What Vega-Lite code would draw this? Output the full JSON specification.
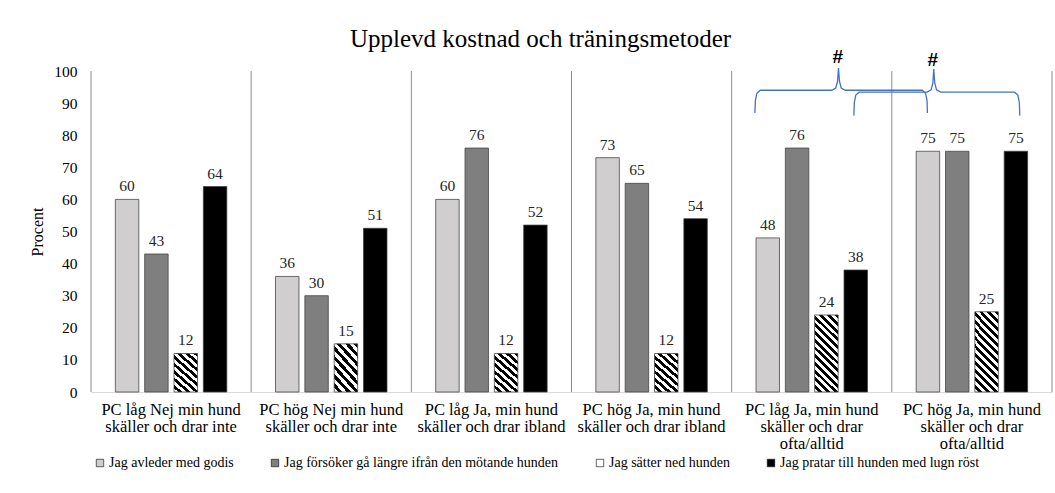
{
  "$schema": "https://vega.github.io/schema/vega-lite/v6.json",
  "width": 961,
  "height": 321,
  "autosize": {"type": "none"},
  "padding": {"left": 91, "top": 71, "right": 3, "bottom": 101},
  "background": "white",
  "config": {"view": {"stroke": null}, "font": "Liberation Serif"},
  "title": {"text": "Upplevd kostnad och träningsmetoder", "fontSize": 25, "fontWeight": "normal", "font": "Liberation Serif", "color": "#000000", "anchor": "middle", "dx": -31, "offset": -4},
  "datasets": {
    "bars": [
      {"group": "PC låg Nej min hund\nskäller och drar inte", "series": "Jag avleder med godis", "value": 60},
      {"group": "PC låg Nej min hund\nskäller och drar inte", "series": "Jag försöker gå längre ifrån den mötande hunden", "value": 43},
      {"group": "PC låg Nej min hund\nskäller och drar inte", "series": "Jag sätter ned hunden", "value": 12},
      {"group": "PC låg Nej min hund\nskäller och drar inte", "series": "Jag pratar till hunden med lugn röst", "value": 64},
      {"group": "PC hög Nej min hund\nskäller och drar inte", "series": "Jag avleder med godis", "value": 36},
      {"group": "PC hög Nej min hund\nskäller och drar inte", "series": "Jag försöker gå längre ifrån den mötande hunden", "value": 30},
      {"group": "PC hög Nej min hund\nskäller och drar inte", "series": "Jag sätter ned hunden", "value": 15},
      {"group": "PC hög Nej min hund\nskäller och drar inte", "series": "Jag pratar till hunden med lugn röst", "value": 51},
      {"group": "PC låg Ja, min hund\nskäller och drar ibland", "series": "Jag avleder med godis", "value": 60},
      {"group": "PC låg Ja, min hund\nskäller och drar ibland", "series": "Jag försöker gå längre ifrån den mötande hunden", "value": 76},
      {"group": "PC låg Ja, min hund\nskäller och drar ibland", "series": "Jag sätter ned hunden", "value": 12},
      {"group": "PC låg Ja, min hund\nskäller och drar ibland", "series": "Jag pratar till hunden med lugn röst", "value": 52},
      {"group": "PC hög Ja, min hund\nskäller och drar ibland", "series": "Jag avleder med godis", "value": 73},
      {"group": "PC hög Ja, min hund\nskäller och drar ibland", "series": "Jag försöker gå längre ifrån den mötande hunden", "value": 65},
      {"group": "PC hög Ja, min hund\nskäller och drar ibland", "series": "Jag sätter ned hunden", "value": 12},
      {"group": "PC hög Ja, min hund\nskäller och drar ibland", "series": "Jag pratar till hunden med lugn röst", "value": 54},
      {"group": "PC låg Ja, min hund\nskäller och drar\nofta/alltid", "series": "Jag avleder med godis", "value": 48},
      {"group": "PC låg Ja, min hund\nskäller och drar\nofta/alltid", "series": "Jag försöker gå längre ifrån den mötande hunden", "value": 76},
      {"group": "PC låg Ja, min hund\nskäller och drar\nofta/alltid", "series": "Jag sätter ned hunden", "value": 24},
      {"group": "PC låg Ja, min hund\nskäller och drar\nofta/alltid", "series": "Jag pratar till hunden med lugn röst", "value": 38},
      {"group": "PC hög Ja, min hund\nskäller och drar\nofta/alltid", "series": "Jag avleder med godis", "value": 75},
      {"group": "PC hög Ja, min hund\nskäller och drar\nofta/alltid", "series": "Jag försöker gå längre ifrån den mötande hunden", "value": 75},
      {"group": "PC hög Ja, min hund\nskäller och drar\nofta/alltid", "series": "Jag sätter ned hunden", "value": 25},
      {"group": "PC hög Ja, min hund\nskäller och drar\nofta/alltid", "series": "Jag pratar till hunden med lugn röst", "value": 75}
    ],
    "dividers": [{"x": 0}, {"x": 1}, {"x": 2}, {"x": 3}, {"x": 4}, {"x": 5}, {"x": 6}],
    "braces": [
      {"b": 1, "i": 0, "x": 4.145, "y": 86.9},
      {"b": 1, "i": 1, "x": 4.148, "y": 90.8},
      {"b": 1, "i": 2, "x": 4.157, "y": 93.0},
      {"b": 1, "i": 3, "x": 4.178, "y": 94.0},
      {"b": 1, "i": 4, "x": 4.625, "y": 94.0},
      {"b": 1, "i": 5, "x": 4.650, "y": 94.7},
      {"b": 1, "i": 6, "x": 4.661, "y": 96.8},
      {"b": 1, "i": 7, "x": 4.667, "y": 100.9},
      {"b": 1, "i": 8, "x": 4.673, "y": 96.8},
      {"b": 1, "i": 9, "x": 4.684, "y": 94.7},
      {"b": 1, "i": 10, "x": 4.709, "y": 94.0},
      {"b": 1, "i": 11, "x": 5.190, "y": 94.0},
      {"b": 1, "i": 12, "x": 5.211, "y": 93.0},
      {"b": 1, "i": 13, "x": 5.220, "y": 90.8},
      {"b": 1, "i": 14, "x": 5.222, "y": 86.9},
      {"b": 2, "i": 0, "x": 4.763, "y": 86.1},
      {"b": 2, "i": 1, "x": 4.766, "y": 90.2},
      {"b": 2, "i": 2, "x": 4.775, "y": 92.5},
      {"b": 2, "i": 3, "x": 4.796, "y": 93.4},
      {"b": 2, "i": 4, "x": 5.220, "y": 93.4},
      {"b": 2, "i": 5, "x": 5.245, "y": 94.1},
      {"b": 2, "i": 6, "x": 5.256, "y": 96.2},
      {"b": 2, "i": 7, "x": 5.262, "y": 100.6},
      {"b": 2, "i": 8, "x": 5.268, "y": 96.2},
      {"b": 2, "i": 9, "x": 5.279, "y": 94.1},
      {"b": 2, "i": 10, "x": 5.304, "y": 93.4},
      {"b": 2, "i": 11, "x": 5.766, "y": 93.4},
      {"b": 2, "i": 12, "x": 5.787, "y": 92.5},
      {"b": 2, "i": 13, "x": 5.796, "y": 90.2},
      {"b": 2, "i": 14, "x": 5.799, "y": 86.1}
    ],
    "hash": [
      {"x": 4.663, "y": 104.5, "label": "#"},
      {"x": 5.256, "y": 103.5, "label": "#"}
    ]
  },
  "layer": [
    {
      "data": {"name": "bars"},
      "encoding": {
        "x": {"field": "group", "type": "nominal", "sort": null, "scale": {"paddingInner": 0, "paddingOuter": 0},
          "axis": {"title": null, "labelExpr": "split(datum.label, '\\n')", "labelAngle": 0, "labelFontSize": 16.5, "labelFont": "Liberation Serif", "labelColor": "#000000", "labelPadding": 9, "labelLineHeight": 17, "labelBaseline": "top", "ticks": false, "domainColor": "#d9d9d9", "domainWidth": 1, "labelLimit": 200}},
        "xOffset": {"field": "series", "type": "nominal", "sort": ["Jag avleder med godis", "Jag försöker gå längre ifrån den mötande hunden", "Jag sätter ned hunden", "Jag pratar till hunden med lugn röst"], "scale": {"paddingInner": 0.2, "paddingOuter": 0.83}},
        "y": {"field": "value", "type": "quantitative", "scale": {"domain": [0, 100], "nice": false},
          "axis": {"title": "Procent", "titleFont": "Liberation Serif", "titleFontSize": 16, "titleFontWeight": "normal", "titleColor": "#000000", "titlePadding": 8, "values": [0, 10, 20, 30, 40, 50, 60, 70, 80, 90, 100], "grid": false, "domain": false, "ticks": false, "labelPadding": 14, "labelFontSize": 15.5, "labelFont": "Liberation Serif", "labelColor": "#000000"}}
      },
      "layer": [
        {
          "mark": {"type": "bar", "stroke": "#404040", "strokeWidth": 0.75},
          "encoding": {
            "fill": {
              "field": "series", "type": "nominal",
              "scale": {
                "domain": ["Jag avleder med godis", "Jag försöker gå längre ifrån den mötande hunden", "Jag sätter ned hunden", "Jag pratar till hunden med lugn röst"],
                "range": ["#d0cece", "#7f7f7f", "#ffffff", "#000000"]
              },
              "legend": {"title": null, "orient": "none", "legendX": 2, "legendY": 385, "direction": "horizontal", "columns": 4, "symbolType": "square", "symbolSize": 55, "symbolStrokeColor": "#000000", "symbolStrokeWidth": 0.6, "labelFontSize": 14, "labelFont": "Liberation Serif", "labelColor": "#000000", "columnPadding": 34, "labelOffset": 2, "labelLimit": 400,
                "encode": {
                  "labels": {"update": {"font": {"value": "Liberation Serif"}, "fontSize": {"value": 14}}},
                  "symbols": {"update": {
                  "stroke": {"value": "#000000"},
                  "strokeWidth": {"value": 0.6},
                  "fill": [
                    {"test": "datum.value === 'Jag avleder med godis'", "value": "#d0cece"},
                    {"test": "datum.value === 'Jag pratar till hunden med lugn röst'", "value": "#000000"},
                    {"test": "datum.value === 'Jag sätter ned hunden'", "value": "#ffffff"},
                    {"value": "#7f7f7f"}
                  ]}}}},
              "condition": [
                {"test": "datum.series === 'Jag sätter ned hunden' && datum.value > 20", "value": {"gradient": "linear", "x1": 1, "y1": 0, "x2": 0.6405, "y2": 1.1931, "stops": [
                  {"offset": 0, "color": "#000000"}, {"offset": 0.03846, "color": "#000000"}, {"offset": 0.03846, "color": "#ffffff"}, {"offset": 0.07692, "color": "#ffffff"},
                  {"offset": 0.07692, "color": "#000000"}, {"offset": 0.11538, "color": "#000000"}, {"offset": 0.11538, "color": "#ffffff"}, {"offset": 0.15385, "color": "#ffffff"},
                  {"offset": 0.15385, "color": "#000000"}, {"offset": 0.19231, "color": "#000000"}, {"offset": 0.19231, "color": "#ffffff"}, {"offset": 0.23077, "color": "#ffffff"},
                  {"offset": 0.23077, "color": "#000000"}, {"offset": 0.26923, "color": "#000000"}, {"offset": 0.26923, "color": "#ffffff"}, {"offset": 0.30769, "color": "#ffffff"},
                  {"offset": 0.30769, "color": "#000000"}, {"offset": 0.34615, "color": "#000000"}, {"offset": 0.34615, "color": "#ffffff"}, {"offset": 0.38462, "color": "#ffffff"},
                  {"offset": 0.38462, "color": "#000000"}, {"offset": 0.42308, "color": "#000000"}, {"offset": 0.42308, "color": "#ffffff"}, {"offset": 0.46154, "color": "#ffffff"},
                  {"offset": 0.46154, "color": "#000000"}, {"offset": 0.5, "color": "#000000"}, {"offset": 0.5, "color": "#ffffff"}, {"offset": 0.53846, "color": "#ffffff"},
                  {"offset": 0.53846, "color": "#000000"}, {"offset": 0.57692, "color": "#000000"}, {"offset": 0.57692, "color": "#ffffff"}, {"offset": 0.61538, "color": "#ffffff"},
                  {"offset": 0.61538, "color": "#000000"}, {"offset": 0.65385, "color": "#000000"}, {"offset": 0.65385, "color": "#ffffff"}, {"offset": 0.69231, "color": "#ffffff"},
                  {"offset": 0.69231, "color": "#000000"}, {"offset": 0.73077, "color": "#000000"}, {"offset": 0.73077, "color": "#ffffff"}, {"offset": 0.76923, "color": "#ffffff"},
                  {"offset": 0.76923, "color": "#000000"}, {"offset": 0.80769, "color": "#000000"}, {"offset": 0.80769, "color": "#ffffff"}, {"offset": 0.84615, "color": "#ffffff"},
                  {"offset": 0.84615, "color": "#000000"}, {"offset": 0.88462, "color": "#000000"}, {"offset": 0.88462, "color": "#ffffff"}, {"offset": 0.92308, "color": "#ffffff"},
                  {"offset": 0.92308, "color": "#000000"}, {"offset": 0.96154, "color": "#000000"}, {"offset": 0.96154, "color": "#ffffff"}, {"offset": 1, "color": "#ffffff"}]}},
                {"test": "datum.series === 'Jag sätter ned hunden'", "value": {"gradient": "linear", "x1": 1, "y1": 0, "x2": 0.3624, "y2": 1.1937, "stops": [
                  {"offset": 0, "color": "#000000"}, {"offset": 0.0625, "color": "#000000"}, {"offset": 0.0625, "color": "#ffffff"}, {"offset": 0.125, "color": "#ffffff"},
                  {"offset": 0.125, "color": "#000000"}, {"offset": 0.1875, "color": "#000000"}, {"offset": 0.1875, "color": "#ffffff"}, {"offset": 0.25, "color": "#ffffff"},
                  {"offset": 0.25, "color": "#000000"}, {"offset": 0.3125, "color": "#000000"}, {"offset": 0.3125, "color": "#ffffff"}, {"offset": 0.375, "color": "#ffffff"},
                  {"offset": 0.375, "color": "#000000"}, {"offset": 0.4375, "color": "#000000"}, {"offset": 0.4375, "color": "#ffffff"}, {"offset": 0.5, "color": "#ffffff"},
                  {"offset": 0.5, "color": "#000000"}, {"offset": 0.5625, "color": "#000000"}, {"offset": 0.5625, "color": "#ffffff"}, {"offset": 0.625, "color": "#ffffff"},
                  {"offset": 0.625, "color": "#000000"}, {"offset": 0.6875, "color": "#000000"}, {"offset": 0.6875, "color": "#ffffff"}, {"offset": 0.75, "color": "#ffffff"},
                  {"offset": 0.75, "color": "#000000"}, {"offset": 0.8125, "color": "#000000"}, {"offset": 0.8125, "color": "#ffffff"}, {"offset": 0.875, "color": "#ffffff"},
                  {"offset": 0.875, "color": "#000000"}, {"offset": 0.9375, "color": "#000000"}, {"offset": 0.9375, "color": "#ffffff"}, {"offset": 1, "color": "#ffffff"}]}}
              ]
            }
          }
        },
        {
          "mark": {"type": "text", "baseline": "bottom", "dy": -5, "fontSize": 15.5, "font": "Liberation Serif", "color": "#262626"},
          "encoding": {"text": {"field": "value", "type": "quantitative", "format": ".0f"}}
        }
      ]
    },
    {
      "layer": [
        {
          "data": {"name": "dividers"},
          "mark": {"type": "rule", "color": "#8c8c8c", "strokeWidth": 1},
          "encoding": {
            "x": {"field": "x", "type": "quantitative", "scale": {"domain": [0, 6], "nice": false, "zero": false}, "axis": null},
            "y": {"datum": 0, "type": "quantitative", "scale": {"domain": [0, 100], "nice": false}, "axis": null},
            "y2": {"datum": 100}
          }
        },
        {
          "data": {"name": "braces"},
          "mark": {"type": "line", "color": "#4472c4", "strokeWidth": 1.3, "interpolate": "linear"},
          "encoding": {
            "x": {"field": "x", "type": "quantitative", "scale": {"domain": [0, 6], "nice": false, "zero": false}, "axis": null},
            "y": {"field": "y", "type": "quantitative", "scale": {"domain": [0, 100], "nice": false}, "axis": null},
            "detail": {"field": "b", "type": "nominal"},
            "order": {"field": "i", "type": "quantitative"}
          }
        },
        {
          "data": {"name": "hash"},
          "mark": {"type": "text", "fontSize": 19, "font": "Liberation Sans", "fontWeight": "bold", "baseline": "middle", "color": "#000000"},
          "encoding": {
            "x": {"field": "x", "type": "quantitative", "scale": {"domain": [0, 6], "nice": false, "zero": false}, "axis": null},
            "y": {"field": "y", "type": "quantitative", "scale": {"domain": [0, 100], "nice": false}, "axis": null},
            "text": {"field": "label", "type": "nominal"}
          }
        }
      ]
    }
  ],
  "resolve": {"scale": {"x": "independent", "y": "independent"}}
}
